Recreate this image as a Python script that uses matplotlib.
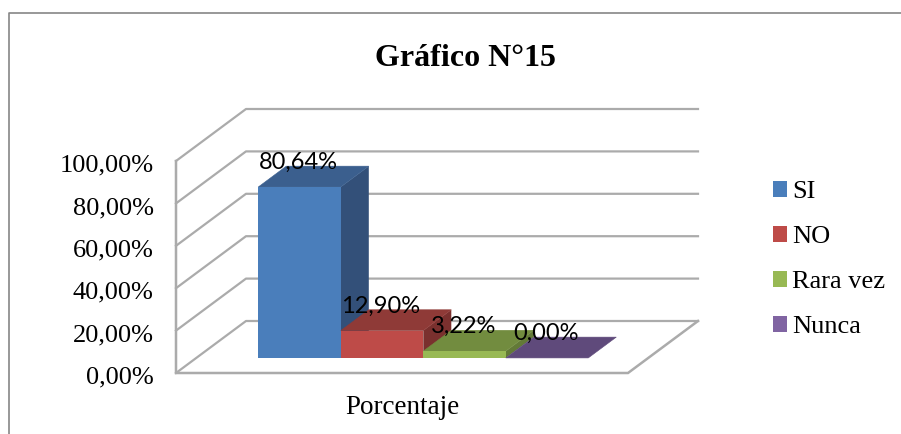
import matplotlib
matplotlib.use('Agg')
import matplotlib.pyplot as plt
from matplotlib.lines import Line2D
from matplotlib.patches import Patch
from matplotlib.transforms import ScaledTranslation

plt.rcParams['font.family'] = ['Liberation Serif', 'DejaVu Serif']

# ----------------- Data ---------------------------------------------- #
series = ['SI', 'NO', 'Rara vez', 'Nunca']
values = [80.64, 12.90, 3.22, 0.00]
value_labels = ['80,64%', '12,90%', '3,22%', '0,00%']
y_ticks = [0, 20, 40, 60, 80, 100]
y_labels = ['0,00%', '20,00%', '40,00%', '60,00%', '80,00%', '100,00%']
category = 'Porcentaje'
title = 'Gráfico N°15'

# ----------------- Colours ------------------------------------------- #
front = ['#4A7EBB', '#BE4B48', '#98B954', '#8064A2']
top = ['#3B5F8E', '#8F3A37', '#728C3F', '#5F4A7B']
side = ['#335079', '#7A302E', '#637A37', '#523F6B']
grid = '#ABABAB'
border = '#868686'

# ----------------- 3D look ------------------------------------------- #
W, H = 901, 434
LEFT, RIGHT, BOTTOM, TOP = 176, 628, 373, 161    # front of the box, pixels
DEPTH_X = 70 / (RIGHT - LEFT)     # full depth in x data units
DEPTH_Y = 52 / ((BOTTOM - TOP) / 100)   # full depth in y data units
BAR_W = 82.5 / (RIGHT - LEFT)
BAR_SHIFT = 1 / (RIGHT - LEFT)
D0, D1 = 0.29, 0.69               # front and back of the bars, in depth


def project(x, y, d=0.0):
    """Shift a point of the box backwards by depth d."""
    return x + d * DEPTH_X, y + d * DEPTH_Y


fig = plt.figure(figsize=(W / 100, H / 100), dpi=100)
ax = fig.add_axes([LEFT / W, 1 - BOTTOM / H, (RIGHT - LEFT) / W, (BOTTOM - TOP) / H])
ax.set_xlim(-0.5, 0.5)
ax.set_ylim(0, 100)
ax.patch.set_visible(False)
for s in ax.spines.values():
    s.set_visible(False)

# walls and gridlines
for v in y_ticks:
    xs, ys = zip(project(-0.5, v), project(-0.5, v, 1), project(0.5, v, 1))
    ax.plot(xs, ys, color=grid, lw=1.6, clip_on=False, zorder=1)
xs, ys = zip(project(-0.5, 100), project(-0.5, 0), project(0.5, 0), project(0.5, 0, 1))
ax.plot(xs, ys, color=grid, lw=1.8, clip_on=False, zorder=1, solid_joinstyle='miter')

# bars, left to right so each bar hides the foot of the side face before it
n = len(values)
for i in range(n):
    x0 = (i - n / 2) * BAR_W + BAR_SHIFT
    x1 = x0 + BAR_W
    v = values[i]
    fx, fy = project(x0, 0, D0)
    z = 2 + i
    if v > 0:
        xs, ys = zip(project(x1, 0, D0), project(x1, v, D0), project(x1, v, D1), project(x1, 0, D1))
        ax.fill(xs, ys, color=side[i], lw=0, clip_on=False, zorder=z)
    xs, ys = zip(project(x0, v, D0), project(x1, v, D0), project(x1, v, D1), project(x0, v, D1))
    ax.fill(xs, ys, color=top[i], lw=0.4, clip_on=False, zorder=z)
    if v > 0:
        ax.bar(fx, v, BAR_W, bottom=fy, align='edge', color=front[i], lw=0.4, zorder=z)

# data labels
for i in range(n):
    x = (i - n / 2 + 0.5) * BAR_W
    ax.annotate(value_labels[i], project(x, values[i], D0), xytext=(0, 17.5),
                textcoords='offset points', ha='center', va='center',
                fontsize=17, family=['Lato', 'DejaVu Sans'], color='black',
                annotation_clip=False, zorder=20)

# axis text
ax.set_yticks(y_ticks, y_labels, fontsize=19)
ax.set_xticks([0], [category], fontsize=19.5)
ax.tick_params(axis='y', length=0, pad=16)
ax.tick_params(axis='x', length=0, pad=16)
nudge = ScaledTranslation(0, -1.5 / 72, fig.dpi_scale_trans)
for label in ax.get_yticklabels():
    label.set_transform(label.get_transform() + nudge)

fig.text(465 / W, 1 - 58 / H, title, fontsize=23, fontweight='bold', ha='center', va='center')

# legend
handles = [Patch(color=c, lw=0) for c in front]
fig.legend(handles, series, loc='upper left', bbox_to_anchor=(773 / W, 1 - 181 / H),
           frameon=False, fontsize=19, handlelength=0.53, handleheight=0.53,
           handletextpad=0.19, labelspacing=0.87, borderpad=0, borderaxespad=0)

# outer chart border, only top and left are in the crop
fig.add_artist(Line2D([9 / W, 9 / W, 1], [0, 1 - 13 / H, 1 - 13 / H], color=border, lw=1.2))

fig.savefig('out.png', dpi=100)
